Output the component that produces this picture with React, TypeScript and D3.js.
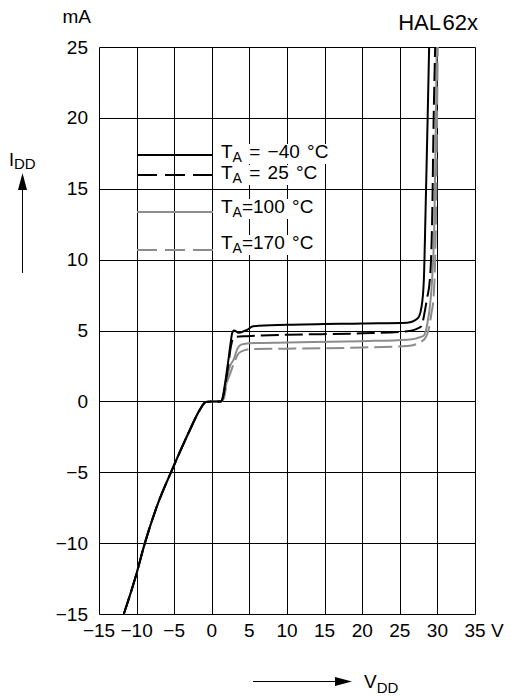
import { MutableRefObject, useLayoutEffect, useRef } from "react";
import * as d3 from "d3";

type Pt = [number, number];

const voltTicks = [-15, -10, -5, 0, 5, 10, 15, 20, 25, 30, 35];
const currentTicks = [-15, -10, -5, 0, 5, 10, 15, 20, 25];

// reverse / low-voltage part, identical for all temperatures
const reverseBranch: Pt[] = [
    [-11.7, -15], [-10.2, -12.5], [-8.9, -10], [-7.3, -7.4], [-5.1, -4.6],
    [-2.9, -2.0], [-1.6, -0.6], [-0.8, -0.05], [0, 0], [1.2, 0],
];

const curveMinus40: Pt[] = [
    [1.45, 0.3], [1.7, 1.05], [2.15, 2.7], [2.5, 4.1], [2.7, 4.8], [2.95, 5.0],
    [3.6, 4.85], [4.7, 5.05], [5.5, 5.3], [10, 5.4], [20, 5.5], [26, 5.55],
    [27.4, 5.86], [27.9, 6.7], [28.2, 8.6], [28.4, 12.8], [28.7, 19.9], [28.9, 25],
];
const curve25: Pt[] = [
    [1.5, 0.3], [1.75, 1.0], [2.2, 2.6], [2.55, 3.9], [2.8, 4.4], [3.2, 4.55],
    [4.7, 4.6], [10, 4.7], [20, 4.8], [26, 4.95], [27.9, 5.3], [28.2, 6.0],
    [28.6, 7.2], [29.0, 8.6], [29.3, 12.8], [29.5, 19.9], [29.7, 25],
];
const curve100: Pt[] = [
    [1.55, 0.25], [1.85, 1.0], [2.3, 2.3], [2.95, 3.0], [3.4, 3.7], [3.9, 4.0],
    [5, 4.1], [10, 4.15], [20, 4.25], [26, 4.35], [28.1, 4.6], [28.6, 5.3],
    [29.1, 7.2], [29.3, 8.6], [29.6, 12.8], [29.8, 19.9], [29.9, 25],
];
const curve170: Pt[] = [
    [1.6, 0.2], [2.0, 1.3], [2.4, 1.9], [2.7, 2.35], [3.6, 3.4], [4.3, 3.6],
    [5.4, 3.7], [10, 3.72], [20, 3.8], [26, 3.9], [28.1, 4.3], [28.8, 5.0],
    [29.2, 6.2], [29.5, 7.4], [29.8, 12.8], [29.95, 19.9], [30.05, 25],
];

const legendLabels = [" = \u221240 \u00b0C", " = 25 \u00b0C", "=100 \u00b0C", "=170 \u00b0C"];

const FONT = "'Liberation Sans', Arial, Helvetica, sans-serif";
const GREY = "#8c8c8c";

function App() {
    const svgRef = useRef<SVGSVGElement>() as MutableRefObject<SVGSVGElement | null>;
    useLayoutEffect(() => {
        const svgCurrent = svgRef.current!;
        render(svgCurrent);
        return () => { svgCurrent.innerHTML = ''; };
    }, []);
    return (
        <svg ref={svgRef} width={511} height={698}
            style={{ position: "absolute", left: 0, top: 0, display: "block" }} />
    );
}

function render(svg: SVGSVGElement) {
    const width = 511, height = 698;
    const x = d3.scaleLinear().domain([-15, 35]).range([99, 475]);
    const y = d3.scaleLinear().domain([-15, 25]).range([614, 47]);
    const px = (v: number) => Math.round(x(v)) + 0.5;
    const py = (v: number) => Math.round(y(v)) + 0.5;

    const root = d3.select(svg).attr("font-family", FONT);
    root.append("rect").attr("width", width).attr("height", height).attr("fill", "#fff");

    // grid
    const grid = root.append("g").attr("stroke", "#000").attr("stroke-width", 1);
    grid.selectAll("line.v").data(voltTicks).enter().append("line")
        .attr("x1", px).attr("x2", px).attr("y1", py(25)).attr("y2", py(-15));
    grid.selectAll("line.h").data(currentTicks).enter().append("line")
        .attr("y1", py).attr("y2", py).attr("x1", px(-15)).attr("x2", px(35));

    // tick labels
    root.append("g").attr("font-size", 19).attr("text-anchor", "middle")
        .selectAll("text").data(voltTicks).enter().append("text")
        .attr("x", d => x(d)).attr("y", 637)
        .text(d => String(d).replace("-", "\u2212"));
    root.append("text").attr("x", 491).attr("y", 637).attr("font-size", 19).text("V");
    root.append("g").attr("font-size", 19).attr("text-anchor", "end")
        .selectAll("text").data(currentTicks).enter().append("text")
        .attr("x", 88).attr("y", d => y(d) + 6.5)
        .text(d => String(d).replace("-", "\u2212"));
    root.append("text").attr("x", 91).attr("y", 23).attr("font-size", 19)
        .attr("text-anchor", "end").text("mA");

    const title = root.append("text").attr("x", 478).attr("y", 30).attr("font-size", 22)
        .attr("text-anchor", "end");
    title.append("tspan").text("HAL");
    title.append("tspan").attr("dx", 1.5).text("62x");

    // curves
    const line = d3.line<Pt>().x(d => x(d[0])).y(d => y(d[1])).curve(d3.curveMonotoneX);
    const series = [
        { data: curve170, color: GREY, dash: "18 6" },
        { data: curve100, color: GREY, dash: null },
        { data: curve25, color: "#000", dash: "18 6" },
        { data: curveMinus40, color: "#000", dash: null },
    ];
    root.append("g").attr("fill", "none").selectAll("path").data(series).enter().append("path")
        .attr("d", s => line(reverseBranch.concat(s.data)))
        .attr("stroke", s => s.color).attr("stroke-width", 2)
        .attr("stroke-dasharray", s => s.dash)
        .attr("stroke-linejoin", "round");

    // legend
    const legendStyles = [
        { color: "#000", dash: null, lineY: 155, textY: 158 },
        { color: "#000", dash: "20 8", lineY: 175, textY: 179 },
        { color: GREY, dash: null, lineY: 212, textY: 213 },
        { color: GREY, dash: "20 8", lineY: 250, textY: 249 },
    ];
    const legendBg = root.append("g");
    const legend = root.append("g");
    legendLabels.forEach((lab, i) => {
        const st = legendStyles[i];
        legend.append("line").attr("x1", 137).attr("x2", 213)
            .attr("y1", st.lineY).attr("y2", st.lineY)
            .attr("stroke", st.color).attr("stroke-width", 2)
            .attr("stroke-dasharray", st.dash);
        const t = legend.append("text").attr("x", 221).attr("y", st.textY)
            .attr("font-size", 19).attr("word-spacing", 2);
        t.append("tspan").text("T");
        t.append("tspan").attr("font-size", 14).attr("dy", 4).text("A");
        t.append("tspan").attr("dy", -4).text(lab);
        const bb = (t.node() as SVGTextElement).getBBox();
        legendBg.append("rect").attr("x", bb.x - 1).attr("y", bb.y + 3)
            .attr("width", bb.width + 2).attr("height", bb.height - 4).attr("fill", "#fff");
    });

    // axis arrows and names
    root.append("line").attr("x1", 22.5).attr("x2", 22.5).attr("y1", 273).attr("y2", 186)
        .attr("stroke", "#000").attr("stroke-width", 1);
    root.append("path").attr("d", "M22.5,173L18,190L27,190Z").attr("fill", "#000");
    const iLab = root.append("text").attr("x", 9).attr("y", 166).attr("font-size", 18);
    iLab.append("tspan").text("I");
    iLab.append("tspan").attr("font-size", 15).attr("dy", 3).text("DD");

    root.append("line").attr("x1", 253).attr("x2", 338).attr("y1", 681.5).attr("y2", 681.5)
        .attr("stroke", "#000").attr("stroke-width", 1);
    root.append("path").attr("d", "M352,681.5L335,677L335,686Z").attr("fill", "#000");
    const vLab = root.append("text").attr("x", 364).attr("y", 688).attr("font-size", 19);
    vLab.append("tspan").text("V");
    vLab.append("tspan").attr("font-size", 15).attr("dy", 5).text("DD");
}

export default App;
